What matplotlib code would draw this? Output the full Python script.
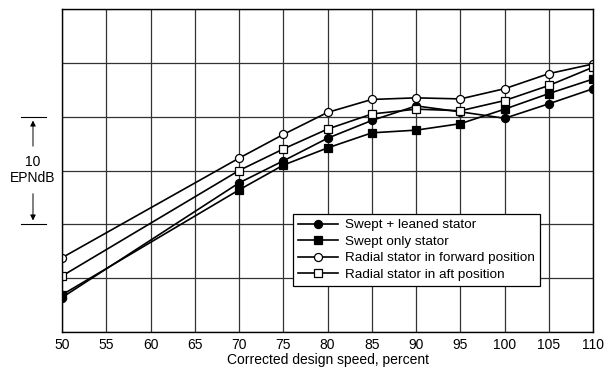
import matplotlib
matplotlib.use("Agg")
import matplotlib.pyplot as plt

plt.rcParams['font.family'] = ['Liberation Sans', 'DejaVu Sans']

speed = [50, 70, 75, 80, 85, 90, 95, 100, 105, 110]
swept_leaned = [3.2, 13.85, 15.9, 18.0, 19.65, 21.0, 20.45, 19.85, 21.2, 22.6]
swept_only = [3.45, 13.2, 15.5, 17.1, 18.5, 18.75, 19.35, 20.7, 22.15, 23.5]
radial_fwd = [6.9, 16.15, 18.35, 20.4, 21.6, 21.75, 21.65, 22.6, 24.0, 24.9]
radial_aft = [5.2, 15.0, 17.0, 18.85, 20.25, 20.7, 20.55, 21.5, 22.9, 24.6]
labels = ["Swept + leaned stator", "Swept only stator",
          "Radial stator in forward position", "Radial stator in aft position"]
xticks = [50, 55, 60, 65, 70, 75, 80, 85, 90, 95, 100, 105, 110]
yticks = [0, 5, 10, 15, 20, 25, 30]

FS = 10

fig = plt.figure(figsize=(6.12, 3.67), dpi=100)
ax = fig.add_axes([0.1013, 0.0954, 0.868, 0.880])

kw = dict(color='black', lw=1.2, markersize=5.8, markeredgewidth=0.9)
ax.plot(speed, swept_leaned, marker='o', markerfacecolor='black', label=labels[0], **kw)
ax.plot(speed, swept_only, marker='s', markerfacecolor='black', label=labels[1], **kw)
ax.plot(speed, radial_fwd, marker='o', markerfacecolor='white', label=labels[2], **kw)
ax.plot(speed, radial_aft, marker='s', markerfacecolor='white', label=labels[3], **kw)

ax.set_xlim(50, 110)
ax.set_ylim(0, 30)
ax.set_xticks(xticks)
ax.set_yticks(yticks)
ax.set_yticklabels([])
ax.tick_params(length=0, labelsize=FS, pad=4)
ax.grid(True, color='#333333', lw=0.9)
ax.set_axisbelow(True)
for s in ax.spines.values():
    s.set_linewidth(1.0)
ax.set_xlabel("Corrected design speed, percent", fontsize=FS, labelpad=1)

leg = ax.legend(loc='lower left', bbox_to_anchor=(0.434, 0.142), fontsize=9.7,
                frameon=True, fancybox=False, edgecolor='black', framealpha=1,
                handlelength=3.0, handletextpad=0.5, labelspacing=0.3,
                borderpad=0.4, borderaxespad=0)
leg.get_frame().set_linewidth(0.9)

tr = ax.get_yaxis_transform()
for yv in (10, 20):
    ax.plot([-0.077, -0.031], [yv, yv], transform=tr, color='black', lw=0.8, clip_on=False)
ax.annotate('', xy=(-0.0546, 19.9), xytext=(-0.0546, 17.0), xycoords=tr, textcoords=tr,
            arrowprops=dict(arrowstyle='-|>', color='black', lw=0.7, mutation_scale=8))
ax.annotate('', xy=(-0.0546, 10.1), xytext=(-0.0546, 13.1), xycoords=tr, textcoords=tr,
            arrowprops=dict(arrowstyle='-|>', color='black', lw=0.7, mutation_scale=8))
ax.text(-0.0546, 15.8, "10", transform=tr, ha='center', va='center', fontsize=FS)
ax.text(-0.0546, 14.3, "EPNdB", transform=tr, ha='center', va='center', fontsize=FS)

fig.savefig("out.png", dpi=100)
